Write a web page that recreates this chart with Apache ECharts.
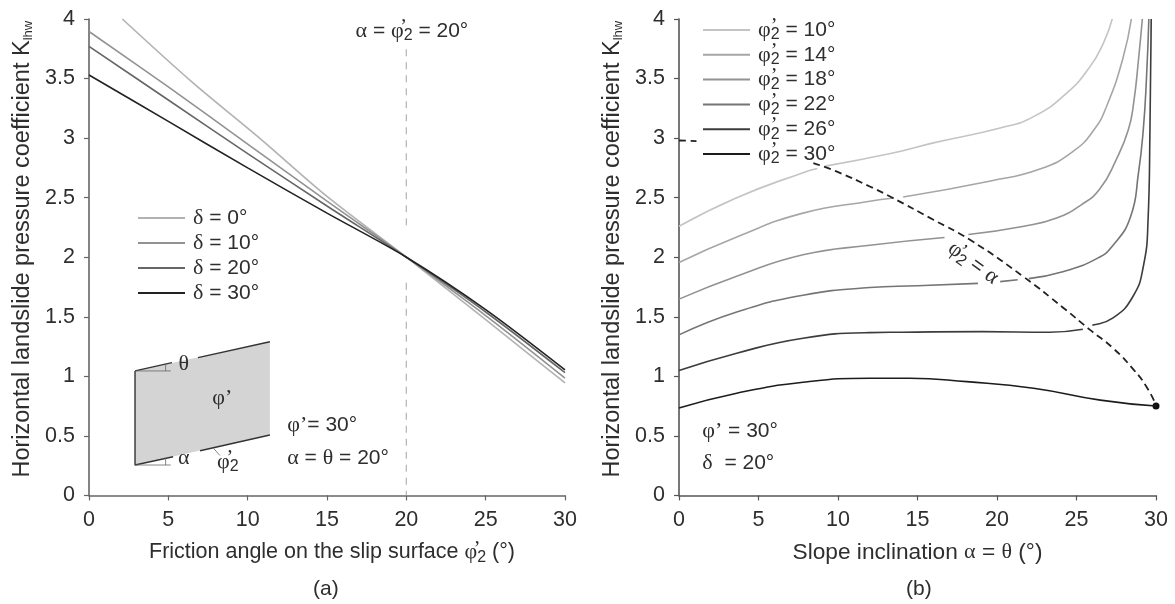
<!DOCTYPE html>
<html><head><meta charset="utf-8">
<style>html,body{margin:0;padding:0;background:#fff}#c{width:1175px;height:604px}</style>
<script src="https://cdn.jsdelivr.net/npm/echarts@6/dist/echarts.min.js"></script>
</head><body><div id="c"></div>
<script>
// Panel (a): K_lhw vs friction angle on the slip surface
const delta0 = [[2.1,4],[6.5,3.47],[10.75,3.0],[15,2.51],[20,2],[25,1.475],[30,0.945]];
const delta10 = [[0,3.895],[5,3.43],[10,2.95],[15,2.47],[20,2],[25,1.51],[30,0.985]];
const delta20 = [[0,3.77],[5,3.32],[10,2.87],[15,2.43],[20,2],[25,1.54],[30,1.03]];
const delta30 = [[0,3.53],[5,3.14],[10,2.75],[15,2.37],[20,2],[25,1.56],[30,1.054]];
const refLineA = [[20,3.745],[20,2.22],[20,null],[20,1.785],[20,0]];
const insetFill = [[2.9,1.045],[2.9,0.255],[11.4,0.507],[11.4,1.29]];
const insetDark = [[2.9,1.045],[2.9,0.255],[5.3,0.325],[5.3,null],[7,0.375],[11.4,0.507],[11.4,null],[2.9,1.045],[5.23,1.115],[5.23,null],[6.87,1.157],[11.4,1.29]];
const insetThin = [[2.9,1.045],[5.15,1.045],[5.15,null],[4.83,1.045],[4.83,1.105],[4.83,null],[2.9,0.255],[5.15,0.255],[5.15,null],[4.83,0.255],[4.83,0.315],[4.83,null],[7.85,0.395],[8.25,0.335]];
// Panel (b): K_lhw vs slope inclination
const phi10 = [[0,2.26],[3.63,2.5],[7.8,2.71],[8.7,2.745],[8.7,null],[9.2,2.765],[13.3,2.87],[16,2.96],[20.2,3.085],[22.3,3.18],[24.4,3.38],[25.85,3.6],[26.7,3.8],[27.25,4]];
const phi14 = [[0,1.955],[3.63,2.17],[7.8,2.37],[12,2.47],[13.4,2.495],[13.4,null],[14.1,2.505],[19.6,2.64],[22.7,2.74],[24.8,2.89],[26.1,3.07],[26.9,3.27],[27.9,3.66],[28.45,4]];
const phi18 = [[0,1.648],[3.63,1.84],[7.8,2.02],[12,2.10],[16.7,2.165],[16.7,null],[18.2,2.19],[21.7,2.26],[23.75,2.33],[25.3,2.44],[26.45,2.57],[27.5,2.82],[28.26,3.07],[28.6,3.3],[28.9,3.66],[29.14,4]];
const phi22 = [[0,1.348],[3.63,1.54],[7.8,1.68],[12,1.745],[15,1.76],[18.8,1.78],[18.8,null],[20.2,1.795],[21.3,1.81],[21.3,null],[22,1.82],[24.2,1.88],[26.3,1.99],[27.3,2.10],[28.4,2.34],[28.9,2.71],[29.2,3.07],[29.4,3.5],[29.55,4]];
const phi26 = [[0,1.048],[3.63,1.194],[7.8,1.32],[12,1.367],[14,1.37],[19.1,1.375],[23.3,1.37],[25.4,1.395],[25.4,null],[26,1.43],[27.3,1.49],[28.55,1.67],[29.2,1.92],[29.5,2.31],[29.62,3.07],[29.7,4]];
const phi30 = [[0,0.734],[3.63,0.858],[7.8,0.95],[12,0.984],[14.5,0.984],[18.1,0.955],[22.3,0.90],[26.5,0.80],[30,0.75]];
const criticalCurve = [[0,2.98],[1.1,2.975],[1.1,null],[8.45,2.79],[9.9,2.72],[12,2.594],[13.27,2.51],[16,2.314],[18.3,2.146],[21.65,1.838],[24.2,1.572],[25.85,1.39],[27.3,1.236],[28.6,1.054],[29.4,0.913],[30,0.76]];
const endPoint = [[30,0.75]];
// Tick settings
const xMin = 0, xMax = 30, xStep = 5;
const yMin = 0, yMax = 4, yStep = 0.5;
// Text
const yTitle = 'Horizontal landslide pressure coefficient K{sub|lhw}';
const xTitleA = 'Friction angle on the slip surface {g|φ}{p|’}{s|2}{n| (°)}';
const xTitleB = 'Slope inclination {g|α} = {g|θ} (°)';
const phiPrime = "{g|φ}{p|’}{s|2}";
const annA = [
  [20.35,3.9,'{g|α} = '+phiPrime+' = 20°',0],
  [14.7,0.59,'{g|φ}{g|’}= 30°',0],
  [15.7,0.31,'{g|α} = {g|θ} = 20°',0],
  [5.98,1.105,'{g|θ}',0],
  [5.98,0.31,'{g|α}',0],
  [8.4,0.82,'{g|φ}{g|’}',0],
  [8.75,0.28,phiPrime,0]
];
const annB = [
  [3.84,0.54,"{g|φ}{g|’} = 30°",0],
  [3.73,0.27,"{g|δ}  = 20°",0],
  [18.5,1.95,phiPrime+' = {g|α}',-36]
];
const panelLabels = ['(a)','(b)'];

const FONT='"Liberation Sans"', SERIF='"Liberation Serif"', TXT='#2e2e2e';
const rich={
  g:{fontFamily:SERIF,fontSize:22,color:TXT,lineHeight:26},
  s:{fontFamily:FONT,fontSize:16,color:TXT,lineHeight:26,verticalAlign:'bottom'},
  p:{fontFamily:SERIF,fontSize:20,color:TXT,width:0,lineHeight:26,verticalAlign:'top'},
  n:{fontFamily:FONT,fontSize:21.5,color:TXT,lineHeight:26},
  sub:{fontFamily:FONT,fontSize:13,color:TXT,verticalAlign:'bottom',lineHeight:24}
};
const textBase={fontFamily:FONT,fontSize:21,color:TXT,rich};

function axis(idx,type,title,gap,lineColor,namePad,nameSize){
  const isX=type==='x';
  return {
    type:'value',gridIndex:idx,
    min:isX?xMin:yMin,max:isX?xMax:yMax,interval:isX?xStep:yStep,
    splitLine:{show:false},
    axisLine:{show:true,onZero:false,lineStyle:{color:lineColor,width:1.6}},
    axisTick:{show:true,length:5,lineStyle:{color:lineColor,width:1.2}},
    axisLabel:{fontFamily:FONT,fontSize:21.5,color:TXT,margin:14,formatter:v=>String(v)},
    name:title,nameLocation:'middle',nameGap:gap,
    nameTextStyle:Object.assign({},textBase,{fontSize:nameSize,padding:namePad})
  };
}
function line(name,data,color,width,xi,extra){
  return Object.assign({
    name,type:'line',data,xAxisIndex:xi,yAxisIndex:xi,showSymbol:false,symbol:'none',
    smooth:xi===1?0.5:0.3,clip:false,silent:true,connectNulls:false,
    lineStyle:{color,width},itemStyle:{color}
  },extra||{});
}
function notes(data,xi){
  return {
    type:'scatter',xAxisIndex:xi,yAxisIndex:xi,symbolSize:0,clip:false,silent:true,itemStyle:{opacity:1},
    data:data.map(a=>({value:[a[0],a[1]],label:{show:true,position:'inside',formatter:a[2],rotate:a[3],
      align:'center',verticalAlign:'middle',fontFamily:FONT,fontSize:21,color:TXT,rich}}))
  };
}
const leg=(data,left,top,gap)=>({
  orient:'vertical',left,top,itemWidth:47,itemHeight:2,itemGap:gap,data,padding:0,icon:'rect',
  selectedMode:false,textStyle:Object.assign({},textBase,{padding:[0,0,0,3],lineHeight:26}),
  formatter:n=>n.replace('φ2 ',phiPrime+' ').replace('δ ','{g|δ} ')
});
const namesA=['δ = 0°','δ = 10°','δ = 20°','δ = 30°'];
const namesB=['φ2 = 10°','φ2 = 14°','φ2 = 18°','φ2 = 22°','φ2 = 26°','φ2 = 30°'];
const option={
  animation:false,backgroundColor:'#fff',
  title:[
    {text:panelLabels[0],left:313,top:579,padding:0,textStyle:{fontFamily:FONT,fontSize:21,fontWeight:'normal',color:TXT}},
    {text:panelLabels[1],left:906,top:579,padding:0,textStyle:{fontFamily:FONT,fontSize:21,fontWeight:'normal',color:TXT}}
  ],
  legend:[leg(namesA,138,205,-1),leg(namesB,703,17,-1.2)],
  grid:[
    {left:89,width:476,top:19,height:476.4},
    {left:679,width:477,top:19,height:476.4}
  ],
  xAxis:[axis(0,'x',xTitleA,44,'#666',[0,0,0,10],21.5),axis(1,'x',xTitleB,44,'#555',[0,0,0,0],22.7)],
  yAxis:[axis(0,'y',yTitle,54,'#666',[0,0,0,16],23.5),axis(1,'y',yTitle,54,'#555',[0,0,0,16],23.5)],
  series:[
    {type:'custom',xAxisIndex:0,yAxisIndex:0,silent:true,clip:false,data:[0],
     renderItem:(p,api)=>({type:'polygon',shape:{points:insetFill.map(q=>api.coord(q))},style:{fill:'#d4d4d4'}})},
    line('insetDark',insetDark,'#333',1.4,0,{smooth:false}),
    line('insetThin',insetThin,'#666',0.8,0,{smooth:false}),
    line('refA',refLineA,'#b8b8b8',1.3,0,{smooth:false,lineStyle:{color:'#b8b8b8',width:1.3,type:[7,6]}}),
    line(namesA[0],delta0,'#b2b2b2',1.6,0),
    line(namesA[1],delta10,'#929292',1.6,0),
    line(namesA[2],delta20,'#666666',1.6,0),
    line(namesA[3],delta30,'#222222',1.6,0),
    line(namesB[0],phi10,'#c4c4c4',1.6,1),
    line(namesB[1],phi14,'#a6a6a6',1.6,1),
    line(namesB[2],phi18,'#929292',1.6,1),
    line(namesB[3],phi22,'#757575',1.6,1),
    line(namesB[4],phi26,'#3c3c3c',1.6,1),
    line(namesB[5],phi30,'#1c1c1c',1.6,1),
    line('critical',criticalCurve,'#222',1.8,1,{lineStyle:{color:'#222',width:1.8,type:[7,4.5]}}),
    {type:'scatter',xAxisIndex:1,yAxisIndex:1,data:endPoint,symbolSize:7,clip:false,silent:true,itemStyle:{color:'#111',opacity:1}},
    notes(annA,0),notes(annB,1)
  ]
};
const chart=echarts.init(document.getElementById('c'),null,{renderer:'canvas'});
chart.setOption(option);
</script></body></html>
